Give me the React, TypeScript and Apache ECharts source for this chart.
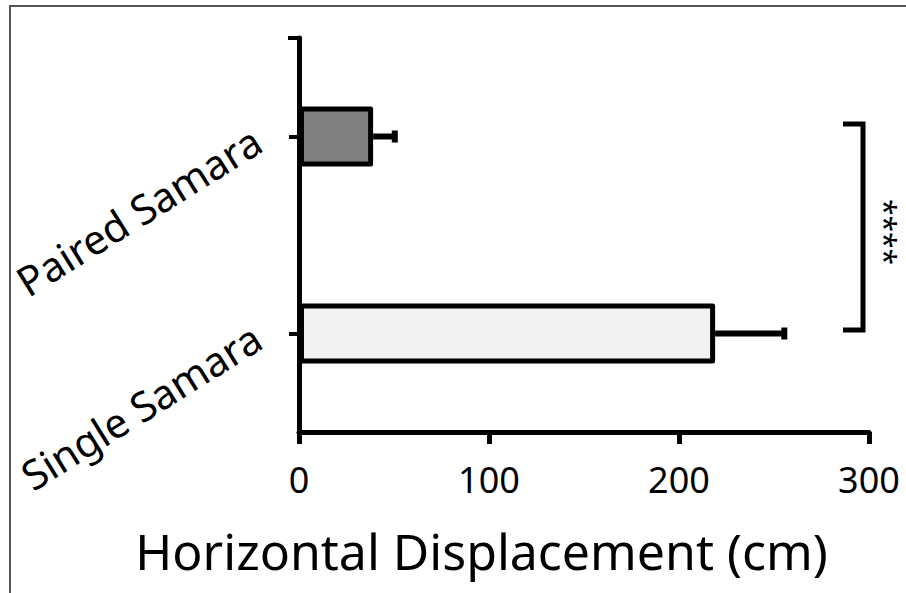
import React, { useEffect, useRef } from "react";
import * as echarts from "echarts";

const categories = ["Single Samara", "Paired Samara"];
const means = [219, 39];
const errors = [38, 13];
const barColors = ["#f2f2f2", "#808080"];
const xMin = 0;
const xMax = 300;
const xInterval = 100;
const significance = "****";
const axisTitle = "Horizontal Displacement (cm)";

const FONT = "'Noto Sans', 'Open Sans', sans-serif";

export default function App() {
  const ref = useRef<HTMLDivElement>(null);

  useEffect(() => {
    if (!ref.current) return;
    const chart = echarts.init(ref.current, undefined, { renderer: "svg" });

    const barData = means.map((v, i) => ({
      value: v,
      itemStyle: { color: barColors[i] },
    }));
    const errData = means.map((v, i) => [v, i, errors[i]]);

    const option: any = {
      animation: false,
      backgroundColor: "#ffffff",
      grid: { left: 299, top: 38, width: 570, height: 394, containLabel: false },
      xAxis: {
        type: "value",
        min: xMin,
        max: xMax,
        interval: xInterval,
        name: axisTitle,
        nameLocation: "middle",
        nameGap: 94,
        nameTextStyle: {
          fontFamily: FONT,
          fontSize: 50,
          color: "#000",
          padding: [0, 205, 0, 0],
        },
        axisLine: { show: true, lineStyle: { color: "#000", width: 5 } },
        axisTick: { show: true, length: 12, lineStyle: { color: "#000", width: 5 } },
        splitLine: { show: false },
        axisLabel: {
          fontFamily: FONT,
          fontSize: 36,
          color: "#000",
          margin: 29,
        },
      },
      yAxis: {
        type: "category",
        data: categories,
        axisLine: { show: true, lineStyle: { color: "#000", width: 5 } },
        axisTick: {
          show: true,
          alignWithLabel: true,
          length: 10,
          lineStyle: { color: "#000", width: 4 },
        },
        axisLabel: {
          fontFamily: FONT,
          fontSize: 41,
          color: "#000",
          rotate: 32,
          margin: 42,
        },
        splitLine: { show: false },
      },
      series: [
        {
          type: "bar",
          data: barData,
          barWidth: 60,
          z: 1,
          itemStyle: { borderColor: "#000", borderWidth: 5, borderJoin: "round" },
        },
        {
          type: "custom",
          z: 3,
          encode: { x: 0, y: 1 },
          data: errData,
          renderItem: (params: any, api: any) => {
            const m = api.value(0);
            const c = api.value(1);
            const e = api.value(2);
            const s = api.coord([m, c]);
            const t = api.coord([m + e, c]);
            return {
              type: "group",
              children: [
                {
                  type: "line",
                  shape: { x1: s[0], y1: s[1], x2: t[0] - 3, y2: t[1] },
                  style: { stroke: "#000", lineWidth: 6 },
                },
                {
                  type: "rect",
                  shape: { x: t[0] - 6, y: t[1] - 6, width: 6, height: 12 },
                  style: { fill: "#000" },
                },
              ],
            };
          },
        },
      ],
      graphic: [
        {
          type: "line",
          shape: { x1: 9, y1: 6, x2: 906, y2: 6 },
          style: { stroke: "#555", lineWidth: 2 },
        },
        {
          type: "line",
          shape: { x1: 10, y1: 6, x2: 10, y2: 593 },
          style: { stroke: "#555", lineWidth: 2 },
        },
        {
          type: "line",
          shape: { x1: 288, y1: 38, x2: 299, y2: 38 },
          style: { stroke: "#000", lineWidth: 4 },
        },
        {
          type: "polyline",
          shape: { points: [[843, 124], [863, 124], [863, 330], [843, 330]] },
          style: { stroke: "#000", lineWidth: 5, fill: null },
        },
        {
          type: "text",
          x: 885,
          y: 232,
          rotation: -Math.PI / 2,
          style: {
            text: significance,
            fontFamily: FONT,
            fontSize: 30,
            fill: "#000",
            align: "center",
            verticalAlign: "middle",
          },
        },
      ],
    };

    chart.setOption(option);
    return () => chart.dispose();
  }, []);

  return (
    <div
      ref={ref}
      style={{ position: "absolute", left: 0, top: 0, width: 906, height: 593 }}
    />
  );
}
